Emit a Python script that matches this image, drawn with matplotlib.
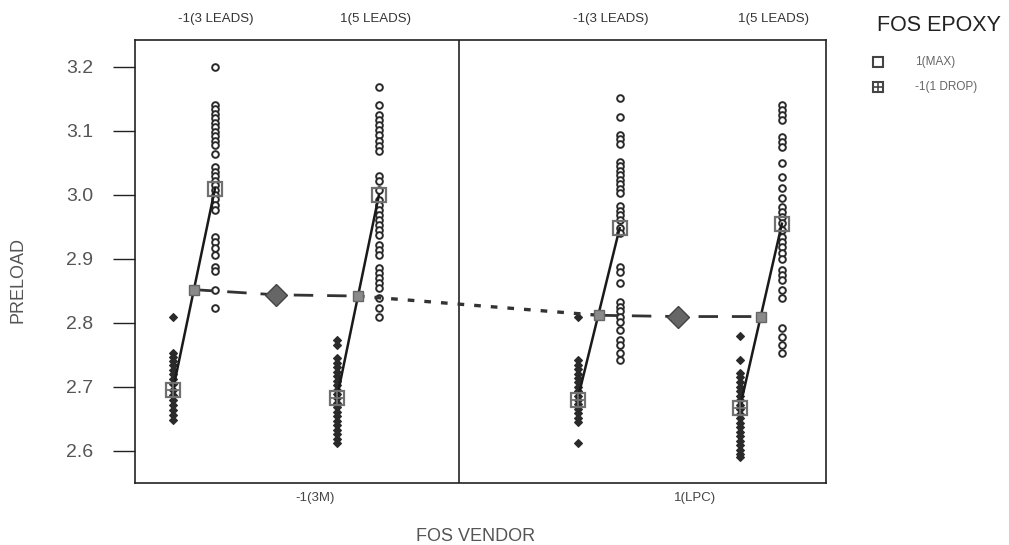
import matplotlib
matplotlib.use("Agg")
import matplotlib.pyplot as plt

plt.rcParams['font.family'] = ['Liberation Sans', 'DejaVu Sans']

# preload readings per vendor / lead count / epoxy level
m3_3lead_max = [3.200, 3.141, 3.134, 3.127, 3.120, 3.113, 3.106, 3.099, 3.092, 3.085,
                3.078, 3.064, 3.043, 3.036, 3.029, 3.022, 3.015, 3.008, 3.000, 2.993,
                2.985, 2.977, 2.935, 2.927, 2.917, 2.906, 2.888, 2.881, 2.852, 2.823]
m3_3lead_drop = [2.810, 2.753, 2.747, 2.741, 2.734, 2.727, 2.720, 2.713, 2.705, 2.695,
                 2.688, 2.680, 2.672, 2.664, 2.656, 2.648]
m3_5lead_max = [3.169, 3.141, 3.125, 3.117, 3.109, 3.101, 3.093, 3.085, 3.077, 3.069,
                3.030, 3.022, 3.008, 2.992, 2.984, 2.977, 2.969, 2.961, 2.953, 2.945,
                2.938, 2.922, 2.914, 2.906, 2.886, 2.878, 2.870, 2.862, 2.855, 2.839,
                2.823, 2.810]
m3_5lead_drop = [2.773, 2.765, 2.745, 2.738, 2.731, 2.724, 2.717, 2.710, 2.703, 2.696,
                 2.689, 2.682, 2.675, 2.668, 2.661, 2.654, 2.647, 2.640, 2.633, 2.626,
                 2.619, 2.612]
lpc_3lead_max = [3.151, 3.121, 3.094, 3.087, 3.080, 3.052, 3.045, 3.038, 3.031, 3.024,
                 3.017, 3.010, 3.003, 2.982, 2.975, 2.968, 2.961, 2.948, 2.940, 2.888,
                 2.880, 2.862, 2.833, 2.825, 2.818, 2.810, 2.802, 2.789, 2.773, 2.766,
                 2.753, 2.742]
lpc_3lead_drop = [2.810, 2.742, 2.735, 2.728, 2.721, 2.714, 2.707, 2.700, 2.693, 2.686,
                  2.680, 2.673, 2.666, 2.659, 2.652, 2.646, 2.612]
lpc_5lead_max = [3.141, 3.133, 3.125, 3.117, 3.091, 3.083, 3.075, 3.050, 3.028, 3.011,
                 2.995, 2.981, 2.973, 2.966, 2.956, 2.945, 2.934, 2.926, 2.918, 2.909,
                 2.900, 2.883, 2.875, 2.867, 2.852, 2.839, 2.792, 2.778, 2.766, 2.753]
lpc_5lead_drop = [2.780, 2.742, 2.722, 2.715, 2.708, 2.700, 2.693, 2.686, 2.679, 2.672,
                  2.665, 2.658, 2.651, 2.644, 2.637, 2.630, 2.623, 2.616, 2.609, 2.602,
                  2.595, 2.591]

max_groups = [m3_3lead_max, m3_5lead_max, lpc_3lead_max, lpc_5lead_max]
drop_groups = [m3_3lead_drop, m3_5lead_drop, lpc_3lead_drop, lpc_5lead_drop]

# cell means (max / drop), lead means and vendor means
max_means = [3.010, 3.000, 2.948, 2.955]
drop_means = [2.695, 2.682, 2.680, 2.667]
lead_means = [2.852, 2.842, 2.812, 2.810]
vendor_means = [2.844, 2.810]

vendors = ['-1(3M)', '1(LPC)']
leads = ['-1(3 LEADS)', '1(5 LEADS)']
epoxy = ['1(MAX)', '-1(1 DROP)']

# x layout: 3M panel spans 0..1, LPC panel spans 1..2.133
panel_edges = [0.0, 1.0, 2.133]
lead_x = [0.182, 0.688, 1.431, 1.932]
vendor_x = [0.435, 1.676]
half = 0.065

fig = plt.figure(figsize=(10.09, 5.45), dpi=100)
ax = fig.add_axes([0.1338, 0.1138, 0.6848, 0.8128])

dark = '#2a2a2a'
for i in range(4):
    xd = lead_x[i] - half
    xm = lead_x[i] + half
    ax.plot([xm] * len(max_groups[i]), max_groups[i], 'o', ms=4.8, mfc='white',
            mec=dark, mew=1.4, zorder=3)
    ax.plot([xd] * len(drop_groups[i]), drop_groups[i], 'D', ms=4.0, mfc=dark,
            mec=dark, mew=0.8, zorder=3)
    # epoxy effect line within a lead group
    ax.plot([xd, xm], [drop_means[i], max_means[i]], '-', color='#1a1a1a', lw=1.8, zorder=4)
    ax.plot(xm, max_means[i], 's', ms=9.5, mfc='none', mec='#707070', mew=1.6, zorder=5)
    ax.plot(xd, drop_means[i], 's', ms=9.5, mfc='none', mec='#707070', mew=1.6, zorder=5)
    ax.plot(xd, drop_means[i], '+', ms=9.5, mec='#707070', mew=1.3, zorder=5)

# lead effect within each vendor (dashed), vendor effect (dotted)
for v in range(2):
    xs = [lead_x[2 * v], vendor_x[v], lead_x[2 * v + 1]]
    ys = [lead_means[2 * v], vendor_means[v], lead_means[2 * v + 1]]
    ax.plot(xs, ys, color='#333333', lw=2.0, dashes=(7, 5), zorder=4)
    ax.plot(vendor_x[v], vendor_means[v], 'D', ms=11, mfc='#666666', mec='#444444',
            mew=1.0, zorder=6)
ax.plot([lead_x[1], lead_x[2]], [lead_means[1], lead_means[2]], color='#333333',
        lw=2.4, dashes=(2, 3), zorder=4)
ax.plot(lead_x, lead_means, 's', ms=7.5, mfc='#8a8a8a', mec='#666666', mew=1.0, zorder=6)

ax.axvline(panel_edges[1], color='#222222', lw=1.2)
ax.set_xlim(panel_edges[0], panel_edges[2])
ax.set_ylim(2.55, 3.242)
ax.set_yticks([2.6, 2.7, 2.8, 2.9, 3.0, 3.1, 3.2])
ax.set_yticklabels(['2.6', '2.7', '2.8', '2.9', '3.0', '3.1', '3.2'])
ax.tick_params(axis='y', length=16, width=1.0, pad=14, labelsize=14, colors='#222222',
               labelcolor='#555555')
ax.set_xticks([])
for s in ax.spines.values():
    s.set_color('#222222')
    s.set_linewidth(1.2)

# category labels along the bottom and top
for x, name in zip([0.556, 1.728], vendors):
    ax.text(x, -0.035, name, transform=ax.get_xaxis_transform(), ha='center', va='center',
            fontsize=9.5, color='#444444')
for x, name in zip([0.250, 0.742, 1.470, 1.970], leads * 2):
    ax.text(x, 1.047, name, transform=ax.get_xaxis_transform(), ha='center', va='center',
            fontsize=9.5, color='#333333')

fig.text(0.018, 0.487, 'PRELOAD', rotation=90, ha='center', va='center', fontsize=13,
         color='#555555')
fig.text(0.471, 0.016, 'FOS VENDOR', ha='center', va='center', fontsize=13, color='#555555')

# legend for epoxy levels
fig.text(0.931, 0.954, 'FOS EPOXY', ha='center', va='center', fontsize=15.5, color='#222222')
ax.plot([0.870], [0.886], 's', ms=7, mfc='none', mec='#444444', mew=1.5,
        transform=fig.transFigure, clip_on=False)
ax.plot([0.870], [0.840], 's', ms=7, mfc='none', mec='#444444', mew=1.5,
        transform=fig.transFigure, clip_on=False)
ax.plot([0.870], [0.840], '+', ms=7, mec='#444444', mew=1.2,
        transform=fig.transFigure, clip_on=False)
fig.text(0.907, 0.886, epoxy[0], ha='left', va='center', fontsize=8.5, color='#666666')
fig.text(0.907, 0.840, epoxy[1], ha='left', va='center', fontsize=8.5, color='#666666')

fig.savefig('out.png', dpi=100)
